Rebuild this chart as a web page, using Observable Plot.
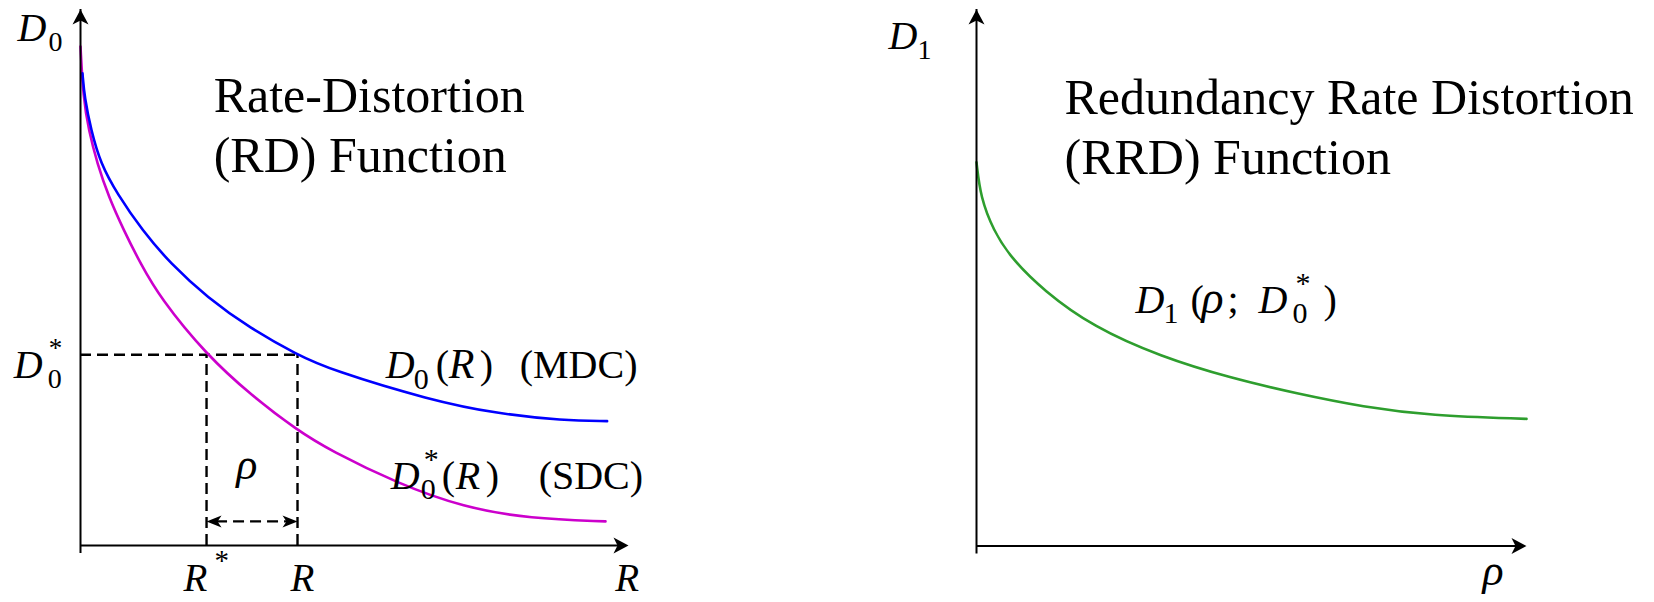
<!DOCTYPE html>
<html>
<head>
<meta charset="utf-8">
<script src="https://cdn.jsdelivr.net/npm/d3@7"></script>
<script src="https://cdn.jsdelivr.net/npm/@observablehq/plot@0.6"></script>
<style>
  html, body { margin: 0; padding: 0; background: #fff; }
  #wrap { display: flex; width: 1654px; height: 602px; overflow: hidden; }
  #wrap svg { display: block; flex: none; }
  #wrap text, #wrap tspan { font-family: "Liberation Serif", "Times New Roman", serif; }
</style>
</head>
<body>
<div id="wrap"></div>
<script>
// ---------- data (abstract units, axes span 0..100) ----------
// Left panel: RD functions
const mdcRate = [0.36, 0.73, 1.95, 3.65, 6.70, 11.26, 16.42, 23.12, 31.0, 39.54, 45.6, 63.9, 76.0, 88.1, 96.1];
const mdcDist = [88.1, 83.6, 77.4, 71.3, 65.6, 58.8, 52.6, 46.3, 40.5, 35.6, 32.8, 27.1, 24.6, 23.3, 23.2];
const sdcRate = [0, 0.49, 1.51, 3.05, 5.16, 7.9, 10.95, 14.47, 22.94, 31.3, 39.54, 45.6, 57.8, 69.9, 82.1, 95.8];
const sdcDist = [93.1, 83.6, 77.4, 71.3, 65.0, 58.8, 52.6, 46.3, 35.6, 27.9, 21.5, 17.7, 11.6, 7.1, 5.0, 4.5];
// markers on the left panel
const dStar = 35.6;      // D0* level
const rStar = 23.0;      // R*
const rAt = 39.6;        // R
const rhoArrowLevel = 4.5;
const axisMax = 100;
// Right panel: RRD function
const rrdRho  = [0, 0.73, 3.09, 6.18, 12.18, 21.27, 33.45, 46.18, 58.3, 70.36, 82.5, 100];
const rrdDist = [71.5, 65.0, 58.8, 53.8, 47.6, 40.8, 35.3, 31.3, 28.4, 25.9, 24.3, 23.7];
// texts
const leftTitle = ["Rate-Distortion", "(RD) Function"];
const rightTitle = ["Redundancy Rate Distortion", "(RRD) Function"];

// ---------- annotation layout ----------
const FONT = "Liberation Serif";
const it = (t, dx, dy, size) => ({t, dx, dy, size, italic: true});
const up = (t, dx, dy, size) => ({t, dx, dy, size, italic: false});

const leftRich = [
  {text: "D0", x: -11.5, y: 94.2, parts: [it("D", 0, 0, 40), up("0", 31, 10, 28)]},
  {text: "D0*", x: -12.2, y: 31.3, parts: [it("D", 0, 0, 40), up("0", 34, 10, 28), up("*", 35, -21, 27)]},
  {text: "R*", x: 18.8, y: -8.4, parts: [it("R", 0, 0, 39), up("*", 31, -21, 29)]},
  {text: "D0(R)  (MDC)", x: 55.7, y: 31.3, parts: [it("D", 0, 0, 40), up("0", 28, 11, 30), up("(", 50, 0, 40), it("R", 63, 0, 42), up(")", 94, 0, 40), up("(MDC)", 134, 0, 40)]},
  {text: "D0*(R)   (SDC)", x: 56.6, y: 10.6, parts: [it("D", 0, 0, 40), up("0", 30, 10, 30), up("*", 33, -20, 30), up("(", 51, 0, 40), it("R", 65, 0, 40), up(")", 95, 0, 40), up("(SDC)", 148, 0, 40)]}
];
const rightRich = [
  {text: "D1", x: -16.0, y: 92.7, parts: [it("D", 0, 0, 40), up("1", 29, 10, 28)]},
  {text: "D1 (ρ; D0*)", x: 28.9, y: 43.5, parts: [it("D", 0, 0, 40), up("1", 28, 10, 30), up("(", 55, 0, 40), it("ρ", 66, 0, 46), up(";", 92, 0, 40), it("D", 123, 0, 40), up("0", 157, 10, 30), up("*", 160, -20, 30), up(")", 188, 0, 40)]}
];
const leftPlain = [
  {text: "R", x: 38.3, y: -8.4, size: 39},
  {text: "R", x: 97.6, y: -8.4, size: 39},
  {text: "ρ", x: 28.4, y: 12.5, size: 44}
];
const rightPlain = [
  {text: "ρ", x: 92.0, y: -7.3, size: 44}
];

// concave filled arrowhead symbol, tip at the origin, pointing up
function arrowHead(w, len, notch) {
  return {draw(ctx) { ctx.moveTo(0, 0); ctx.lineTo(w, len); ctx.lineTo(0, notch); ctx.lineTo(-w, len); ctx.closePath(); }};
}
const axisHead = arrowHead(8, 15, 11);
const smallHead = arrowHead(6, 15, 11);

const zip = (xs, ys) => xs.map((x, i) => ({x, y: ys[i]}));
const dash = {stroke: "black", strokeWidth: 2.4, strokeDasharray: "11,6"};

function axesMarks() {
  return [
    Plot.ruleY([0], {x1: 0, x2: axisMax, stroke: "black", strokeWidth: 2, insetRight: 8}),
    Plot.ruleX([0], {y1: 0, y2: axisMax, stroke: "black", strokeWidth: 2, insetTop: 8}),
    Plot.dot([{x: axisMax, y: 0, r: 90}, {x: 0, y: axisMax, r: 0}], {x: "x", y: "y", rotate: "r", symbol: axisHead, fill: "black", stroke: "none"})
  ];
}
function richMarks(labels) {
  return Plot.text(labels, {x: "x", y: "y", text: "text", textAnchor: "start", lineAnchor: "bottom", fontSize: 40, fontFamily: FONT, fill: "black"});
}
function plainMarks(labels) {
  return Plot.text(labels, {x: "x", y: "y", text: "text", textAnchor: "start", lineAnchor: "bottom", fontSize: (d) => d.size, fontStyle: "italic", fontFamily: FONT, fill: "black"});
}
function enrich(svg, labels) {
  const ns = "http://www.w3.org/2000/svg";
  svg.querySelectorAll("text").forEach((el) => {
    const spec = labels.find((l) => l.text === el.textContent);
    if (!spec) return;
    const bx = +(el.getAttribute("x") || 0), by = +(el.getAttribute("y") || 0);
    el.removeAttribute("dy");
    while (el.firstChild) el.removeChild(el.firstChild);
    for (const p of spec.parts) {
      const ts = document.createElementNS(ns, "tspan");
      ts.setAttribute("x", bx + p.dx);
      ts.setAttribute("y", by + p.dy);
      ts.setAttribute("font-size", p.size);
      ts.setAttribute("font-family", FONT);
      ts.setAttribute("font-style", p.italic ? "italic" : "normal");
      ts.textContent = p.t;
      el.appendChild(ts);
    }
  });
}

const style = {fontFamily: FONT, background: "white", overflow: "visible", color: "black"};

const left = Plot.plot({
  width: 827, height: 602,
  marginLeft: 80, marginRight: 199, marginTop: 9, marginBottom: 57,
  x: {domain: [0, axisMax], axis: null},
  y: {domain: [0, axisMax], axis: null},
  style,
  marks: [
    Plot.ruleY([dStar], {x1: 0, x2: rAt, ...dash}),
    Plot.ruleX([rStar, rAt], {y1: 0, y2: dStar, ...dash}),
    Plot.ruleY([rhoArrowLevel], {x1: rStar, x2: rAt, insetLeft: 10, insetRight: 10, ...dash}),
    Plot.dot([{x: rStar, y: rhoArrowLevel, r: -90}, {x: rAt, y: rhoArrowLevel, r: 90}], {x: "x", y: "y", rotate: "r", symbol: smallHead, fill: "black", stroke: "none"}),
    Plot.line(zip(sdcRate, sdcDist), {x: "x", y: "y", stroke: "#cc00cc", strokeWidth: 2.6, curve: "basis"}),
    Plot.line(zip(mdcRate, mdcDist), {x: "x", y: "y", stroke: "#0000ff", strokeWidth: 2.6, curve: "basis"}),
    ...axesMarks(),
    Plot.text([leftTitle.join("\n")], {x: 24.3, y: 69.6, text: (d) => d, textAnchor: "start", lineAnchor: "bottom", fontSize: 50, lineHeight: 1.2, fontFamily: FONT, fill: "black"}),
    richMarks(leftRich),
    plainMarks(leftPlain)
  ]
});
enrich(left, leftRich);

const right = Plot.plot({
  width: 827, height: 602,
  marginLeft: 149, marginRight: 128, marginTop: 9, marginBottom: 56.5,
  x: {domain: [0, axisMax], axis: null},
  y: {domain: [0, axisMax], axis: null},
  style,
  marks: [
    Plot.line(zip(rrdRho, rrdDist), {x: "x", y: "y", stroke: "#2e9e2e", strokeWidth: 2.6, curve: "basis"}),
    ...axesMarks(),
    Plot.text([rightTitle.join("\n")], {x: 16.0, y: 69.4, text: (d) => d, textAnchor: "start", lineAnchor: "bottom", fontSize: 50, lineHeight: 1.2, fontFamily: FONT, fill: "black"}),
    richMarks(rightRich),
    plainMarks(rightPlain)
  ]
});
enrich(right, rightRich);

const wrap = document.getElementById("wrap");
wrap.appendChild(left);
wrap.appendChild(right);
</script>
</body>
</html>
